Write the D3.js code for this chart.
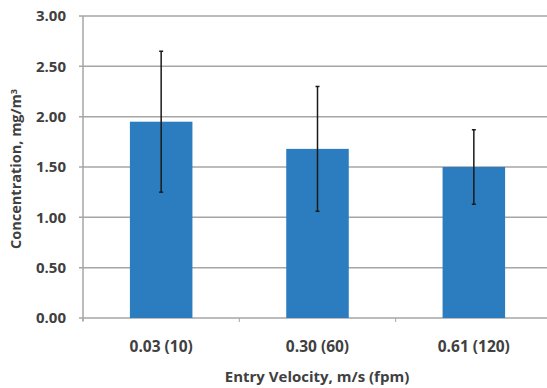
<!DOCTYPE html>
<meta charset="utf-8">
<style>
body { margin: 0; background: #fff; }
text { font-family: "Open Sans", "Liberation Sans", sans-serif; font-weight: bold; fill: #404040; }
</style>
<body>
<svg width="547" height="388"></svg>
<script src="https://cdn.jsdelivr.net/npm/d3@7"></script>
<script>
// data
var categories = ["0.03 (10)", "0.30 (60)", "0.61 (120)"];
var means = [1.95, 1.68, 1.50];
var errs = [0.70, 0.62, 0.37];
var yTicks = [0, 0.5, 1, 1.5, 2, 2.5, 3];

var svg = d3.select("svg");
var plotLeft = 83, plotRight = 552, plotTop = 16, plotBottom = 318;

var x = d3.scaleBand().domain(categories).range([plotLeft, plotRight]).paddingInner(0.6).paddingOuter(0.3);
var y = d3.scaleLinear().domain([0, 3]).range([plotBottom, plotTop]);

// gridlines
svg.append("g").selectAll("line").data(yTicks).enter().append("line")
    .attr("x1", plotLeft - 4).attr("x2", plotRight)
    .attr("y1", function(d) { return y(d); }).attr("y2", function(d) { return y(d); })
    .attr("stroke", "#a6a6a6").attr("stroke-width", 1.5);

// y axis line
svg.append("line").attr("x1", plotLeft).attr("x2", plotLeft).attr("y1", plotTop).attr("y2", plotBottom + 3)
    .attr("stroke", "#a6a6a6").attr("stroke-width", 1.5);

// x category ticks
var bounds = d3.range(categories.length + 1).map(function(i) { return plotLeft + i * (plotRight - plotLeft) / categories.length; });
svg.append("g").selectAll("line").data(bounds).enter().append("line")
    .attr("x1", function(d) { return d; }).attr("x2", function(d) { return d; })
    .attr("y1", plotBottom).attr("y2", plotBottom + 4)
    .attr("stroke", "#a6a6a6").attr("stroke-width", 1);

// y tick labels
svg.append("g").selectAll("text").data(yTicks).enter().append("text")
    .attr("x", 66).attr("y", function(d) { return y(d); }).attr("dy", "0.35em")
    .attr("text-anchor", "end").style("font-size", "15px")
    .text(function(d) { return d3.format(".2f")(d); });

// bars
svg.append("g").selectAll("rect").data(means).enter().append("rect")
    .attr("x", function(d, i) { return x(categories[i]); })
    .attr("width", x.bandwidth())
    .attr("y", function(d) { return y(d); })
    .attr("height", function(d) { return plotBottom - y(d); })
    .attr("fill", "#2b7dc0");

// error bars
var eb = svg.append("g").attr("stroke", "#1a1a1a").attr("stroke-width", 1.5);
means.forEach(function(m, i) {
  var cx = x(categories[i]) + x.bandwidth() / 2;
  eb.append("line").attr("x1", cx).attr("x2", cx).attr("y1", y(m + errs[i])).attr("y2", y(m - errs[i]));
  eb.append("line").attr("x1", cx - 2).attr("x2", cx + 2).attr("y1", y(m + errs[i])).attr("y2", y(m + errs[i]));
  eb.append("line").attr("x1", cx - 2).attr("x2", cx + 2).attr("y1", y(m - errs[i])).attr("y2", y(m - errs[i]));
});

// x labels
svg.append("g").selectAll("text").data(categories).enter().append("text")
    .attr("x", function(d) { return x(d) + x.bandwidth() / 2; })
    .attr("y", 347).attr("dy", "0.35em").attr("text-anchor", "middle")
    .style("font-size", "15.5px")
    .text(function(d) { return d; });

// axis titles
svg.append("text").attr("x", 317).attr("y", 377).attr("dy", "0.35em")
    .attr("text-anchor", "middle").style("font-size", "15px")
    .text("Entry Velocity, m/s (fpm)");

var yt = svg.append("text").attr("transform", "translate(16,169) rotate(-90)")
    .attr("dy", "0.35em").attr("text-anchor", "middle").style("font-size", "14.5px");
yt.append("tspan").text("Concentration, mg/m");
yt.append("tspan").attr("dy", "-0.4em").style("font-size", "9px").text("3");
</script>
